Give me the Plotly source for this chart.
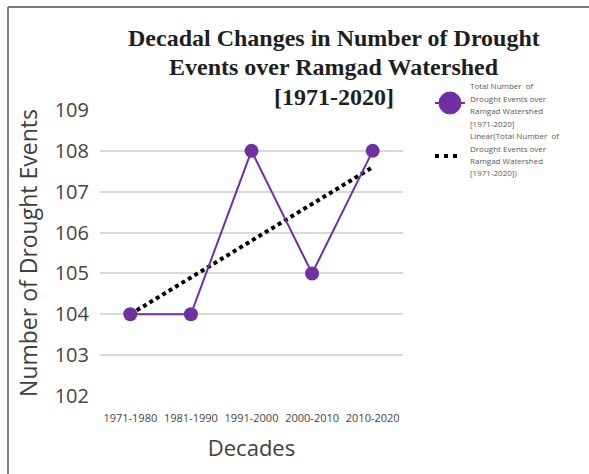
import numpy as np
import plotly.graph_objects as go

# Decadal drought event counts, Ramgad watershed
decades = ["1971-1980", "1981-1990", "1991-2000", "2000-2010", "2010-2020"]
events = [104, 104, 108, 105, 108]
y_ticks = [102, 103, 104, 105, 106, 107, 108, 109]

title_lines = [
    "Decadal Changes in Number of Drought",
    "Events over Ramgad Watershed",
    "[1971-2020]",
]
legend_series = ["Total Number  of", "Drought Events over", "Ramgad Watershed", "[1971-2020]"]
legend_trend = ["Linear(Total Number  of", "Drought Events over", "Ramgad Watershed", "[1971-2020])"]

PURPLE = "#7030A0"
SANS = "'Open Sans', 'Noto Sans', sans-serif"
SERIF = "'Liberation Serif', 'DejaVu Serif', serif"

W, H = 589, 474
L, R, T, B = 100, 186, 110, 78
pw, ph = W - L - R, H - T - B


def px(x):
    return (x - L) / pw


def py(y):
    return (H - B - y) / ph


# linear trend fitted over decade index 1..5
idx = np.arange(1, len(events) + 1)
slope, intercept = np.polyfit(idx, events, 1)
trend = slope * idx + intercept

fig = go.Figure()
fig.add_trace(go.Scatter(
    x=decades, y=trend, mode="lines",
    line=dict(color="black", width=4, dash="4px,3.5px"),
    showlegend=False, hoverinfo="skip",
))
fig.add_trace(go.Scatter(
    x=decades, y=events, mode="lines+markers",
    line=dict(color=PURPLE, width=2),
    marker=dict(color=PURPLE, size=14),
    showlegend=False,
))

shapes = [
    # frame around the figure (left and top edges)
    dict(type="line", xref="paper", yref="paper", x0=px(8), x1=px(8), y0=py(7), y1=py(480),
         line=dict(color="#7a7a7a", width=2)),
    dict(type="line", xref="paper", yref="paper", x0=px(8), x1=px(600), y0=py(7), y1=py(7),
         line=dict(color="#7a7a7a", width=2)),
    # legend keys
    dict(type="line", xref="paper", yref="paper", x0=px(435), x1=px(465), y0=py(103), y1=py(103),
         line=dict(color=PURPLE, width=2)),
    dict(type="circle", xref="paper", yref="paper", x0=px(439), x1=px(461), y0=py(92), y1=py(114),
         fillcolor=PURPLE, line=dict(color=PURPLE, width=1)),
    dict(type="line", xref="paper", yref="paper", x0=px(435), x1=px(462), y0=py(156), y1=py(156),
         line=dict(color="black", width=4, dash="4px,5px")),
]

annotations = []
for line, yc in zip(title_lines, [38, 67, 97]):
    annotations.append(dict(
        text=f"<b>{line}</b>", x=px(334), y=py(yc), xref="paper", yref="paper",
        xanchor="center", yanchor="middle", showarrow=False,
        font=dict(family=SERIF, size=24, color="#1f1f1f"),
    ))

for j, line in enumerate(legend_series + legend_trend):
    annotations.append(dict(
        text=line, x=px(468), y=py(86 + j * 12.4), xref="paper", yref="paper",
        xanchor="left", yanchor="middle", showarrow=False,
        font=dict(family=SANS, size=8, color="#595959"),
    ))

fig.update_layout(
    width=W, height=H,
    margin=dict(l=L, r=R, t=T, b=B),
    paper_bgcolor="white", plot_bgcolor="white",
    shapes=shapes, annotations=annotations,
    showlegend=False,
    xaxis=dict(
        type="category", range=[-0.5, 4.5], showgrid=False, zeroline=False,
        showline=False, ticks="", ticklabelstandoff=14,
        tickfont=dict(family=SANS, size=11, color="#454545"),
        title=dict(text="Decades", standoff=16,
                   font=dict(family=SANS, size=22, color="#404040")),
    ),
    yaxis=dict(
        range=[102, 109], tickvals=y_ticks, showgrid=True, gridcolor="#d9d9d9",
        gridwidth=1.5, zeroline=False, showline=False, ticks="",
        ticklabelstandoff=10,
        tickfont=dict(family=SANS, size=20, color="#454545"),
        title=dict(text="Number of Drought Events", standoff=10,
                   font=dict(family=SANS, size=23, color="#404040")),
    ),
)

fig.write_html("out.html")
